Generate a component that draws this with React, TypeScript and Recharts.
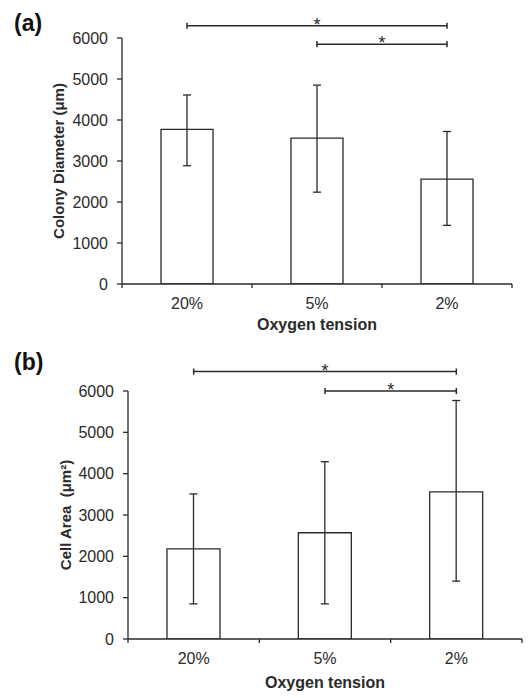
import React from 'react';
import { BarChart, Bar, XAxis, YAxis, ErrorBar, ReferenceLine } from 'recharts';

const categories = ['20%', '5%', '2%'];

// (a) colony diameter
const diameterMean = [3770, 3560, 2560];
const diameterLow = [2885, 2240, 1430];
const diameterHigh = [4610, 4850, 3720];

// (b) cell area
const areaMean = [2180, 2570, 3560];
const areaLow = [850, 850, 1400];
const areaHigh = [3510, 4290, 5770];

const yTicks = [0, 1000, 2000, 3000, 4000, 5000, 6000];

const diameterBrackets = [
  { from: '20%', to: '2%', y: 6300 },
  { from: '5%', to: '2%', y: 5850 },
];
const areaBrackets = [
  { from: '20%', to: '2%', y: 6470 },
  { from: '5%', to: '2%', y: 6000 },
];

const FONT = 'Arial, "Liberation Sans", sans-serif';
const INK = '#2a2a2a';
const W = 530;

interface Bracket { from: string; to: string; y: number }

interface PanelProps {
  mean: number[];
  low: number[];
  high: number[];
  brackets: Bracket[];
  yLabel: string;
  height: number;
  margin: { top: number; right: number; left: number; bottom: number };
  yAxisWidth: number;
  yLabelOffset: number;
  xAxisHeight: number;
  barSize: number;
}

const Panel: React.FC<PanelProps> = (p) => {
  const data = categories.map((c, i) => ({
    name: c,
    value: p.mean[i],
    err: [p.mean[i] - p.low[i], p.high[i] - p.mean[i]],
  }));
  const cap = 75;
  const axisY = p.height - p.margin.bottom - p.xAxisHeight;
  const band = (W - p.margin.left - p.margin.right - p.yAxisWidth) / categories.length;

  // category label plus tick marks on the band boundaries (Excel style)
  const renderTick = (t: any) => {
    const last = t.index === categories.length - 1;
    return (
      <g>
        <line x1={t.x - band / 2} x2={t.x - band / 2} y1={axisY} y2={axisY + 4} stroke={INK} strokeWidth={1.3} />
        {last && <line x1={t.x + band / 2} x2={t.x + band / 2} y1={axisY} y2={axisY + 4} stroke={INK} strokeWidth={1.3} />}
        <text x={t.x} y={axisY + 25} textAnchor="middle" fill={INK} fontSize={16} fontFamily={FONT}>
          {t.payload.value}
        </text>
      </g>
    );
  };

  return (
    <BarChart width={W} height={p.height} data={data} margin={p.margin}>
      <XAxis
        dataKey="name"
        height={p.xAxisHeight}
        stroke={INK}
        strokeWidth={1.3}
        tickLine={false}
        tick={renderTick}
        interval={0}
        label={{
          value: 'Oxygen tension',
          position: 'insideBottom',
          offset: 10,
          fill: INK,
          fontSize: 16,
          fontWeight: 'bold',
          fontFamily: FONT,
        }}
      />
      <YAxis
        width={p.yAxisWidth}
        domain={[0, 6000]}
        ticks={yTicks}
        allowDataOverflow
        tickSize={5}
        tickMargin={9}
        stroke={INK}
        strokeWidth={1.3}
        tick={{ fill: INK, fontSize: 16, fontFamily: FONT }}
        label={{
          value: p.yLabel,
          angle: -90,
          position: 'insideLeft',
          offset: p.yLabelOffset,
          fill: INK,
          fontSize: 15,
          fontWeight: 'bold',
          fontFamily: FONT,
          style: { textAnchor: 'middle' },
        }}
      />
      <Bar dataKey="value" fill="#fff" stroke={INK} strokeWidth={1.3} barSize={p.barSize} isAnimationActive={false}>
        <ErrorBar dataKey="err" direction="y" width={4} stroke={INK} strokeWidth={1.3} isAnimationActive={false} />
      </Bar>
      {p.brackets.map((b, i) => (
        <ReferenceLine
          key={'b' + i}
          segment={[{ x: b.from, y: b.y }, { x: b.to, y: b.y }]}
          ifOverflow="visible"
          stroke={INK}
          strokeWidth={1.5}
          label={{ value: '*', position: 'top', offset: -5, fill: INK, fontSize: 18, fontFamily: FONT }}
        />
      ))}
      {p.brackets.map((b, i) => (
        <ReferenceLine
          key={'l' + i}
          segment={[{ x: b.from, y: b.y - cap }, { x: b.from, y: b.y + cap }]}
          ifOverflow="visible"
          stroke={INK}
          strokeWidth={1.5}
        />
      ))}
      {p.brackets.map((b, i) => (
        <ReferenceLine
          key={'r' + i}
          segment={[{ x: b.to, y: b.y - cap }, { x: b.to, y: b.y + cap }]}
          ifOverflow="visible"
          stroke={INK}
          strokeWidth={1.5}
        />
      ))}
    </BarChart>
  );
};

const panelTag: React.CSSProperties = {
  position: 'absolute',
  left: 14,
  fontFamily: FONT,
  fontWeight: 'bold',
  fontSize: 23,
  color: '#111',
  lineHeight: 1,
};

export default function App() {
  return (
    <div style={{ position: 'absolute', left: 0, top: 0, width: W, height: 698, background: '#fff', overflow: 'hidden' }}>
      <div style={{ position: 'absolute', left: 0, top: 0 }}>
        <Panel
          mean={diameterMean}
          low={diameterLow}
          high={diameterHigh}
          brackets={diameterBrackets}
          yLabel="Colony Diameter (μm)"
          height={340}
          margin={{ top: 38, right: 18, left: 0, bottom: 0 }}
          yAxisWidth={122}
          yLabelOffset={59}
          xAxisHeight={56}
          barSize={52}
        />
      </div>
      <div style={{ position: 'absolute', left: 0, top: 340 }}>
        <Panel
          mean={areaMean}
          low={areaLow}
          high={areaHigh}
          brackets={areaBrackets}
          yLabel={'Cell Area\u00A0 (μm²)'}
          height={358}
          margin={{ top: 51, right: 8, left: 0, bottom: 0 }}
          yAxisWidth={128}
          yLabelOffset={66}
          xAxisHeight={59}
          barSize={53}
        />
      </div>
      <div style={{ ...panelTag, top: 12 }}>(a)</div>
      <div style={{ ...panelTag, top: 351 }}>(b)</div>
    </div>
  );
}
